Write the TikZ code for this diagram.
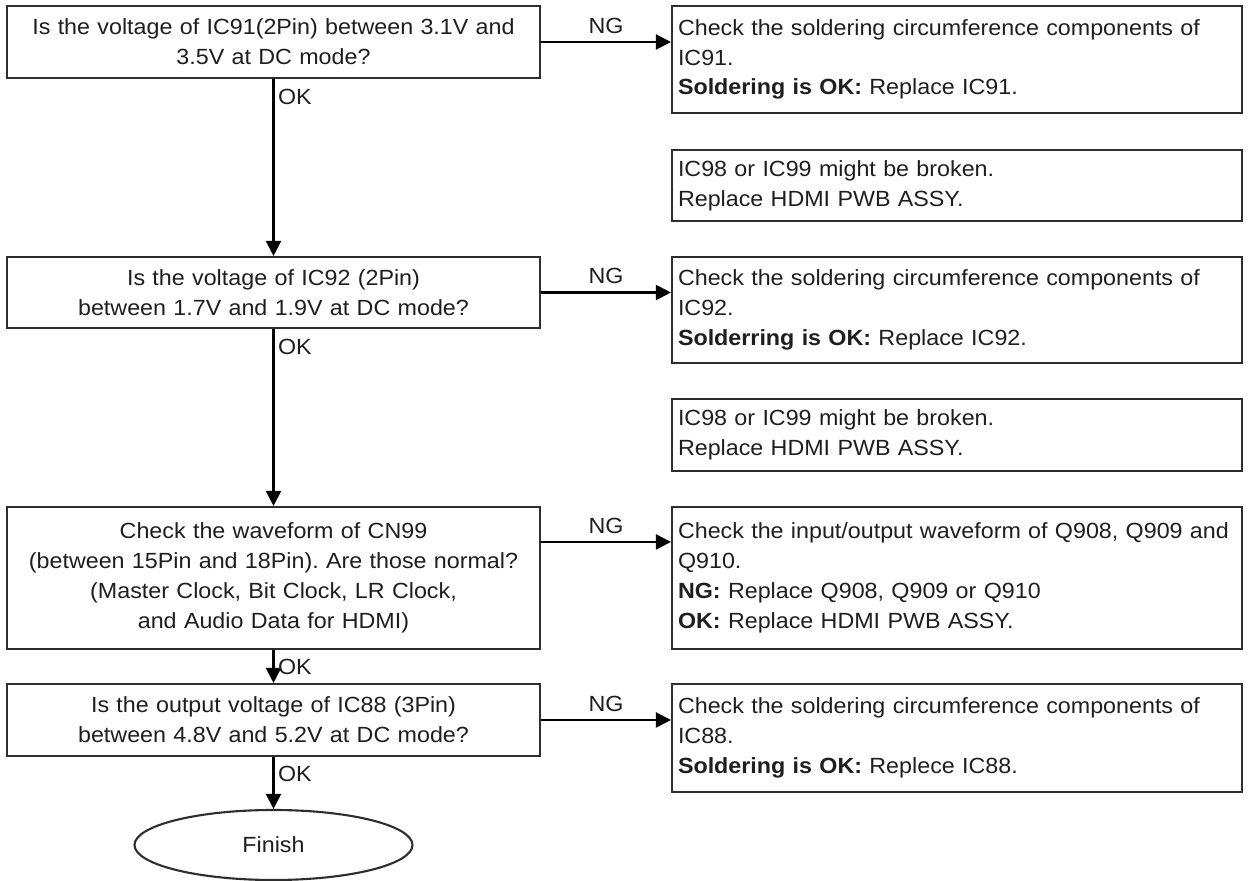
\documentclass[tikz,border=0pt]{standalone}
\usepackage{fontspec}
\setmainfont{Liberation Sans}[FakeStretch=1.06]
\usetikzlibrary{positioning,arrows.meta,shapes.geometric}
\definecolor{colBorde}{HTML}{2E2E2E}
\definecolor{colTexto}{HTML}{1E1E1E}
\tikzset{
  pregunta/.style={draw=colBorde, line width=1.2pt, align=center, text width=10.42cm, inner xsep=0.12cm, inner ysep=0pt, text=colTexto},
  accion/.style={draw=colBorde, line width=1.2pt, align=left, text width=11.16cm, inner xsep=0.12cm, inner ysep=0pt, text=colTexto},
  flecha/.style={-{Triangle[length=0.3cm, width=0.3cm]}, line width=1.2pt, color=black},
  etiqueta/.style={text=colTexto, inner sep=2pt}
}
\frenchspacing

\begin{document}
\begin{tikzpicture}[font=\fontsize{12.5}{17}\selectfont]
    \useasboundingbox (0,0) rectangle (25.1,-17.62);

    % Preguntas (columna izquierda)
    \node[pregunta, minimum height=1.44cm] (q1) at (5.47,-0.84) {Is the voltage of IC91(2Pin) between 3.1V and\\ 3.5V at DC mode?};
    \node[pregunta, minimum height=1.42cm] (q2) at (5.47,-5.85) {Is the voltage of IC92 (2Pin)\\ between 1.7V and 1.9V at DC mode?};
    \node[pregunta, minimum height=2.84cm] (q3) at (5.47,-11.56) {Check the waveform of CN99\\ (between 15Pin and 18Pin). Are those normal?\\ (Master Clock, Bit Clock, LR Clock,\\ and Audio Data for HDMI)};
    \node[pregunta, minimum height=1.44cm] (q4) at (5.47,-14.40) {Is the output voltage of IC88 (3Pin)\\ between 4.8V and 5.2V at DC mode?};
    \node[draw=colBorde, line width=1.2pt, ellipse, minimum width=5.56cm, minimum height=1.4cm, inner sep=0pt, text=colTexto] (fin) at (5.47,-16.9) {Finish};

    % Acciones (columna derecha)
    \node[accion, minimum height=2.14cm] (r1) at (19.14,-1.19) {Check the soldering circumference components of\\ IC91.\\ \textbf{Soldering is OK:} Replace IC91.};
    \node[accion, minimum height=1.42cm] (r2) at (19.14,-3.71) {IC98 or IC99 might be broken.\\ Replace HDMI PWB ASSY.};
    \node[accion, minimum height=2.12cm] (r3) at (19.14,-6.2) {Check the soldering circumference components of\\ IC92.\\ \textbf{Solderring is OK:} Replace IC92.};
    \node[accion, minimum height=1.44cm] (r4) at (19.14,-8.7) {IC98 or IC99 might be broken.\\ Replace HDMI PWB ASSY.};
    \node[accion, minimum height=2.84cm] (r5) at (19.14,-11.56) {Check the input/output waveform of Q908, Q909 and\\ Q910.\\ \textbf{NG:} Replace Q908, Q909 or Q910\\ \textbf{OK:} Replace HDMI PWB ASSY.};
    \node[accion, minimum height=2.16cm] (r6) at (19.14,-14.76) {Check the soldering circumference components of\\ IC88.\\ \textbf{Soldering is OK:} Replece IC88.};

    % Flechas OK
    \draw[flecha] (q1) -- (q2) node[pos=0, below right, etiqueta, yshift=-0.12cm] {OK};
    \draw[flecha] (q2) -- (q3) node[pos=0, below right, etiqueta, yshift=-0.12cm] {OK};
    \draw[flecha] (q3) -- (q4) node[midway, right, etiqueta] {OK};
    \draw[flecha] (q4) -- (fin) node[pos=0, below right, etiqueta, yshift=-0.1cm] {OK};

    % Flechas NG
    \coordinate (ng3) at ([yshift=-0.72cm]q3.north east);
    \draw[flecha] (q1.east) -- (r1.west |- q1.east) node[midway, above, etiqueta, yshift=0.08cm] {NG};
    \draw[flecha] (q2.east) -- (r3.west |- q2.east) node[midway, above, etiqueta, yshift=0.08cm] {NG};
    \draw[flecha] (ng3) -- (r5.west |- ng3) node[midway, above, etiqueta, yshift=0.08cm] {NG};
    \draw[flecha] (q4.east) -- (r6.west |- q4.east) node[midway, above, etiqueta, yshift=0.08cm] {NG};
\end{tikzpicture}
\end{document}
